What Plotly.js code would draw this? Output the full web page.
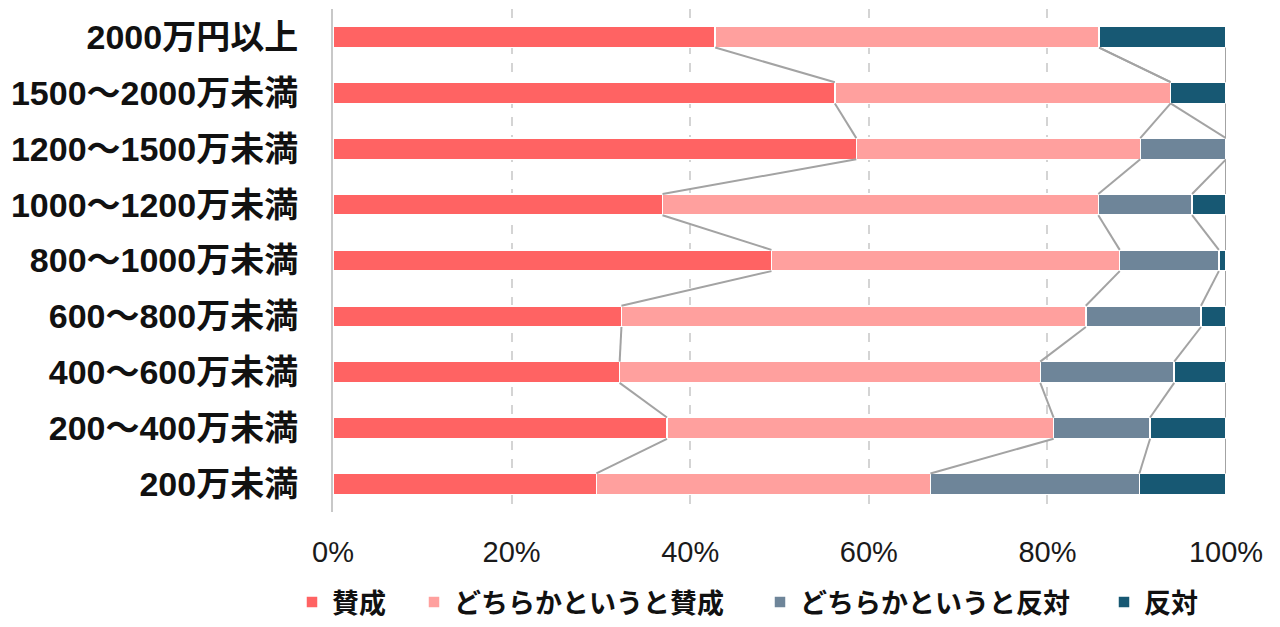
<!DOCTYPE html>
<html>
<head>
<meta charset="utf-8">
<script src="https://cdn.plot.ly/plotly-3.0.1.min.js"></script>
<style>html,body{margin:0;padding:0;background:#fff;}#chart{width:1280px;height:627px;}</style>
</head>
<body>
<div id="chart"></div>
<script>
// Categories, bottom to top
const categories = ["200万未満","200〜400万未満","400〜600万未満","600〜800万未満","800〜1000万未満","1000〜1200万未満","1200〜1500万未満","1500〜2000万未満","2000万円以上"];
const seriesNames = ["賛成","どちらかというと賛成","どちらかというと反対","反対"];
const sansei = [29.5, 37.4, 32.1, 32.3, 49.1, 36.9, 58.6, 56.2, 42.8];
const yaSansei = [37.4, 43.3, 47.1, 52.0, 39.0, 48.8, 31.8, 37.6, 43.0];
const yaHantai = [23.4, 10.8, 15.0, 12.9, 11.1, 10.5, 9.6, 0, 0];
const hantai = [9.7, 8.5, 5.8, 2.8, 0.8, 3.8, 0, 6.2, 14.2];
const xTickVals = [0, 20, 40, 60, 80, 100];

const colors = ["#FF6363", "#FFA09E", "#6E8599", "#175873"];
const seriesValues = [sansei, yaSansei, yaHantai, hantai];
const legendIds = ["legend", "legend2", "legend3", "legend4"];
const legendX = [292, 414, 760, 1104];
const barW = 0.38;
const idx = categories.map((c, i) => i);

const traces = [];
// cumulative sums for connector lines
const cum = [];
let running = idx.map(() => 0);
seriesValues.forEach((vals) => {
  running = running.map((r, i) => r + vals[i]);
  cum.push(running.slice());
});
cum.forEach((c) => {
  const xs = [], ys = [];
  for (let i = 0; i < idx.length - 1; i++) {
    xs.push(c[i + 1], c[i], null);
    ys.push(i + 1 - barW / 2, i + barW / 2, null);
  }
  traces.push({
    type: "scatter", mode: "lines", x: xs, y: ys,
    line: {color: "#a3a3a3", width: 2},
    hoverinfo: "skip", showlegend: false, cliponaxis: false
  });
});
seriesValues.forEach((vals, s) => {
  traces.push({
    type: "bar", orientation: "h", name: seriesNames[s], legend: legendIds[s],
    x: vals, y: idx, width: barW,
    marker: {color: colors[s], line: {color: "#ffffff", width: 1.5}}
  });
});

const fontFam = "Liberation Sans, Noto Sans CJK JP, sans-serif";
const layout = {
  width: 1280, height: 627,
  barmode: "stack",
  paper_bgcolor: "#ffffff", plot_bgcolor: "#ffffff",
  margin: {l: 333, r: 54, t: 9, b: 115},
  font: {family: fontFam, color: "#111"},
  xaxis: {
    range: [0, 100], tickvals: xTickVals, ticktext: xTickVals.map(v => v + "%"),
    showgrid: true, gridcolor: "#d4d4d4", gridwidth: 2, griddash: "dash",
    zeroline: false, showline: false, ticks: "",
    tickfont: {size: 29, color: "#1a1a1a", family: fontFam},
    ticklabelstandoff: 20, fixedrange: true
  },
  yaxis: {
    range: [-0.5, 8.5], tickvals: idx, ticktext: categories,
    showgrid: false, zeroline: false,
    showline: true, linecolor: "#c8c8c8", linewidth: 2,
    ticks: "", tickfont: {size: 34, color: "#111", family: "Liberation Sans, Noto Sans CJK JP", weight: "bold"},
    ticklabelstandoff: 26, fixedrange: true
  },
  showlegend: true
};
legendIds.forEach((id, s) => {
  layout[id] = {
    orientation: "h", x: legendX[s] / 1280, xanchor: "left", xref: "container",
    y: 0.0, yanchor: "bottom", yref: "container",
    font: {size: 27, color: "#111", family: "Liberation Sans, Noto Sans CJK JP", weight: "bold"},
    itemwidth: 30, bgcolor: "rgba(0,0,0,0)"
  };
});
Plotly.newPlot("chart", traces, layout, {displayModeBar: false, staticPlot: true});
</script>
</body>
</html>
